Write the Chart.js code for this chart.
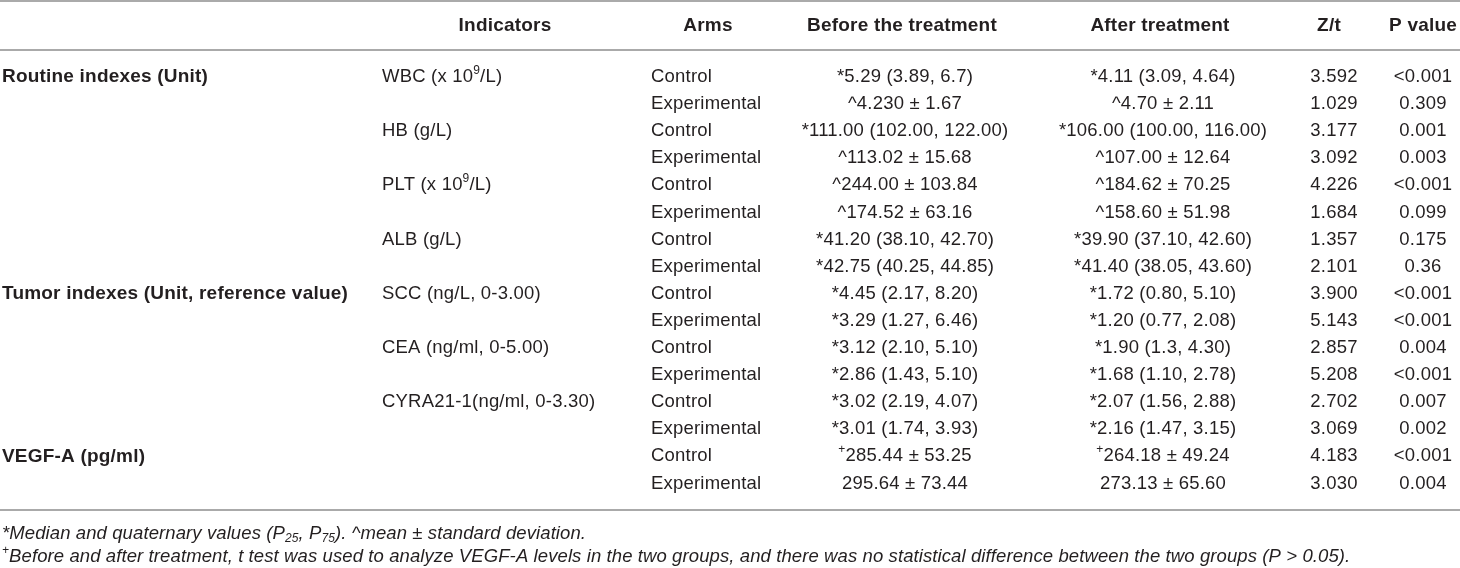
<!DOCTYPE html>
<html>
<head>
<meta charset="utf-8">
<script src="https://cdn.jsdelivr.net/npm/chart.js@4.4.1/dist/chart.umd.min.js"></script>
<style>
	html, body { margin:0; padding:0; background:#fff; }
	#wrap { position:relative; width:1460px; height:568px; }
</style>
</head>
<body>
<div id="wrap"><canvas id="tbl"></canvas></div>
<script>
// table content, one entry per body row (16 rows)
const headers = ['', 'Indicators', 'Arms', 'Before the treatment', 'After treatment', 'Z/t', 'P value'];
const groups = ['Routine indexes (Unit)', '', '', '', '', '', '', '', 'Tumor indexes (Unit, reference value)', '', '', '', '', '', 'VEGF-A (pg/ml)', ''];
const indicators = ['WBC (x 10<sup>9</sup>/L)', '', 'HB (g/L)', '', 'PLT (x 10<sup>9</sup>/L)', '', 'ALB (g/L)', '', 'SCC (ng/L, 0-3.00)', '', 'CEA (ng/ml, 0-5.00)', '', 'CYRA21-1(ng/ml, 0-3.30)', '', '', ''];
const arms = ['Control', 'Experimental', 'Control', 'Experimental', 'Control', 'Experimental', 'Control', 'Experimental', 'Control', 'Experimental', 'Control', 'Experimental', 'Control', 'Experimental', 'Control', 'Experimental'];
const beforeTx = ['*5.29 (3.89, 6.7)', '^4.230 ± 1.67', '*111.00 (102.00, 122.00)', '^113.02 ± 15.68', '^244.00 ± 103.84', '^174.52 ± 63.16', '*41.20 (38.10, 42.70)', '*42.75 (40.25, 44.85)', '*4.45 (2.17, 8.20)', '*3.29 (1.27, 6.46)', '*3.12 (2.10, 5.10)', '*2.86 (1.43, 5.10)', '*3.02 (2.19, 4.07)', '*3.01 (1.74, 3.93)', '<sup>+</sup>285.44 ± 53.25', '295.64 ± 73.44'];
const afterTx = ['*4.11 (3.09, 4.64)', '^4.70 ± 2.11', '*106.00 (100.00, 116.00)', '^107.00 ± 12.64', '^184.62 ± 70.25', '^158.60 ± 51.98', '*39.90 (37.10, 42.60)', '*41.40 (38.05, 43.60)', '*1.72 (0.80, 5.10)', '*1.20 (0.77, 2.08)', '*1.90 (1.3, 4.30)', '*1.68 (1.10, 2.78)', '*2.07 (1.56, 2.88)', '*2.16 (1.47, 3.15)', '<sup>+</sup>264.18 ± 49.24', '273.13 ± 65.60'];
const zt = ['3.592', '1.029', '3.177', '3.092', '4.226', '1.684', '1.357', '2.101', '3.900', '5.143', '2.857', '5.208', '2.702', '3.069', '4.183', '3.030'];
const pValues = ['<0.001', '0.309', '0.001', '0.003', '<0.001', '0.099', '0.175', '0.36', '<0.001', '<0.001', '0.004', '<0.001', '0.007', '0.002', '<0.001', '0.004'];
const footnotes = [
	'*Median and quaternary values (P<sub>25</sub>, P<sub>75</sub>). ^mean ± standard deviation.',
	'<sup>+</sup>Before and after treatment, t test was used to analyze VEGF-A levels in the two groups, and there was no statistical difference between the two groups (P > 0.05).'
];

// layout in pixels, kept apart from the data; rows go through the y scale
const W = 1460, H = 568, ROW0 = 77, ROWH = 27.1;
const COL_X = [2, 382, 651, 905, 1163, 1334, 1423];
const HEAD_X = [2, 505, 708, 902, 1160, 1329, 1423];
const COL_ALIGN = ['left', 'left', 'left', 'center', 'center', 'center', 'center'];
const HEAD_PX = 26, RULES_PX = [1, 50, 510], FOOT_PX = [534, 557];
const toRow = (px) => (px - ROW0) / ROWH;
const FONT = '"Liberation Sans", Arial, Helvetica, sans-serif';
const INK = '#231f20';

const columns = [groups, indicators, arms, beforeTx, afterTx, zt, pValues];

const rich = (ctx, str, x, y, align, f) => {
	const parts = [];
	const re = /<(sup|sub)>(.*?)<\/\1>/g;
	let last = 0, m;
	while ((m = re.exec(str))) {
		if (m.index > last) parts.push({ t: str.slice(last, m.index), k: '' });
		parts.push({ t: m[2], k: m[1] });
		last = re.lastIndex;
	}
	if (last < str.length) parts.push({ t: str.slice(last), k: '' });
	const fontOf = (k) => `${f.style || 'normal'} ${f.weight || 'normal'} ${k ? Math.round(f.size * 0.66) : f.size}px ${FONT}`;
	ctx.letterSpacing = (f.spacing || 0) + 'px';
	let w = 0;
	parts.forEach(p => { ctx.font = fontOf(p.k); p.w = ctx.measureText(p.t).width; w += p.w; });
	let cx = align === 'center' ? x - w / 2 : align === 'right' ? x - w : x;
	ctx.textAlign = 'left';
	ctx.textBaseline = 'middle';
	parts.forEach(p => {
		ctx.font = fontOf(p.k);
		const dy = p.k === 'sup' ? -f.size * 0.34 : p.k === 'sub' ? f.size * 0.26 : 0;
		ctx.fillText(p.t, cx, y + dy);
		cx += p.w;
	});
};

const tablePlugin = {
	id: 'tableText',
	afterDatasetsDraw(chart) {
		const { ctx, scales: { y } } = chart;
		ctx.save();
		ctx.strokeStyle = '#8e8e8e';
		ctx.lineWidth = 1.6;
		RULES_PX.forEach(r => {
			const py = y.getPixelForValue(toRow(r));
			ctx.beginPath(); ctx.moveTo(0, py); ctx.lineTo(W, py); ctx.stroke();
		});
		ctx.fillStyle = INK;
		chart.data.datasets.forEach((ds, di) => {
			const meta = chart.getDatasetMeta(di);
			meta.data.forEach((pt, i) => rich(ctx, ds.data[i].t, pt.x, pt.y, ds.align, ds.fontSpec));
		});
		ctx.restore();
	}
};

const datasets = [];
columns.forEach((col, c) => {
	datasets.push({
		label: headers[c] || 'group',
		data: col.map((t, r) => ({ x: COL_X[c], y: r, t })).filter(d => d.t),
		align: COL_ALIGN[c],
		fontSpec: c === 0 ? { size: 19, weight: 'bold', spacing: 0.2 } : { size: 18.5, spacing: 0.2 },
		pointRadius: 0
	});
});
datasets.push({
	label: 'headers',
	data: headers.map((t, c) => ({ x: HEAD_X[c], y: toRow(HEAD_PX), t })).filter(d => d.t),
	align: 'center',
	fontSpec: { size: 19, weight: 'bold', spacing: 0.2 },
	pointRadius: 0
});
datasets.push({
	label: 'notes',
	data: footnotes.map((t, i) => ({ x: COL_X[0], y: toRow(FOOT_PX[i]), t })),
	align: 'left',
	fontSpec: { size: 18.5, style: 'italic', spacing: 0.1 },
	pointRadius: 0
});

new Chart(document.getElementById('tbl'), {
	type: 'scatter',
	data: { datasets },
	options: {
		responsive: true,
		maintainAspectRatio: false,
		animation: false,
		layout: { padding: 0 },
		plugins: { legend: { display: false }, tooltip: { enabled: false } },
		scales: {
			x: { type: 'linear', display: false, min: 0, max: W },
			y: { type: 'linear', display: false, reverse: true, min: toRow(0), max: toRow(H) }
		}
	},
	plugins: [tablePlugin]
});
</script>
</body>
</html>
